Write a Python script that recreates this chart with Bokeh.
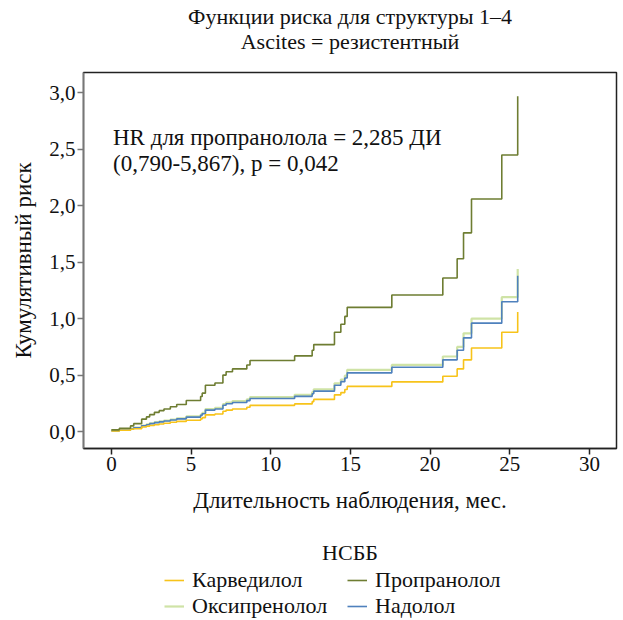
from bokeh.plotting import figure
from bokeh.models import FixedTicker, Legend, LegendItem, Label, Range1d
from bokeh.layouts import column
from bokeh.embed import file_html
from bokeh.resources import INLINE

# ---- data ----
times = [0, 0.5, 1.2, 1.4, 1.9, 2.2, 2.4, 2.7, 3.0, 3.3, 3.7, 4.1, 4.7, 5.6, 5.7, 5.9,
         6.5, 7.0, 7.2, 7.6, 8.5, 8.7, 11.5, 12.6, 12.7, 14.0, 14.4, 14.65, 14.8,
         17.6, 20.8, 21.7, 22.1, 22.6, 24.5, 25.5]

propranolol = [0.015, 0.03, 0.05, 0.07, 0.11, 0.13, 0.15, 0.17, 0.185, 0.20, 0.22, 0.24,
               0.275, 0.31, 0.34, 0.41, 0.43, 0.50, 0.53, 0.555, 0.59, 0.63, 0.67, 0.72,
               0.77, 0.88, 0.95, 1.02, 1.10, 1.21, 1.36, 1.53, 1.76, 2.06, 2.45, 2.97]

carvedilol = [0.005, 0.012, 0.02, 0.025, 0.04, 0.047, 0.054, 0.061, 0.067, 0.074, 0.082,
              0.09, 0.10, 0.112, 0.123, 0.148, 0.156, 0.18, 0.19, 0.20, 0.215, 0.232,
              0.245, 0.265, 0.285, 0.325, 0.345, 0.372, 0.40, 0.44, 0.49, 0.555, 0.635,
              0.74, 0.88, 1.06]

nadolol = [0.008, 0.014, 0.023, 0.033, 0.051, 0.06, 0.07, 0.079, 0.086, 0.093, 0.102,
           0.112, 0.128, 0.144, 0.158, 0.19, 0.20, 0.233, 0.246, 0.258, 0.274, 0.293,
           0.312, 0.335, 0.358, 0.41, 0.442, 0.474, 0.52, 0.57, 0.635, 0.72, 0.83,
           0.96, 1.15, 1.38]

oxprenolol = [0.008, 0.015, 0.024, 0.034, 0.053, 0.063, 0.073, 0.083, 0.09, 0.097, 0.107,
              0.117, 0.134, 0.15, 0.165, 0.20, 0.209, 0.243, 0.257, 0.27, 0.286, 0.306,
              0.325, 0.35, 0.374, 0.427, 0.461, 0.495, 0.547, 0.59, 0.665, 0.75, 0.87,
              1.0, 1.19, 1.44]

x_ticks = [0, 5, 10, 15, 20, 25, 30]
y_ticks = [0.0, 0.5, 1.0, 1.5, 2.0, 2.5, 3.0]
y_tick_labels = ["0,0", "0,5", "1,0", "1,5", "2,0", "2,5", "3,0"]

series_names = ["Карведилол", "Пропранолол", "Оксипренолол", "Надолол"]
colors = {"Карведилол": "#F7C31A", "Пропранолол": "#6E7D32",
          "Оксипренолол": "#CFE3A6", "Надолол": "#4F81BD"}
widths = {"Карведилол": 1.6, "Пропранолол": 1.6, "Оксипренолол": 2.2, "Надолол": 1.6}

title_lines = ["Функции риска для структуры 1–4", "Ascites = резистентный"]
legend_title = "НСББ"

FONT = "Liberation Serif"
TXT = "#111111"
W = 623
FRAME_W = 533   # strips share the main plot's frame (column aligns frames)


def blank(height):
    f = figure(width=W, height=height, output_backend="svg", toolbar_location=None,
               x_range=Range1d(0, FRAME_W), y_range=Range1d(height, 0),
               x_axis_type=None, y_axis_type=None,
               min_border_left=0, min_border_right=0, min_border_top=0, min_border_bottom=0)
    f.grid.visible = False
    f.outline_line_color = None
    f.background_fill_color = "white"
    f.border_fill_color = "white"
    return f


# ---- title strip ----
p_top = blank(70)
for txt, yy in zip(title_lines, [16, 41]):
    p_top.add_layout(Label(x=FRAME_W / 2, y=yy, text=txt, text_align="center",
                           text_baseline="middle", text_font=FONT,
                           text_font_size="22px", text_color=TXT))

# ---- main plot ----
p = figure(frame_width=FRAME_W, frame_height=376, output_backend="svg", toolbar_location=None,
           x_range=Range1d(-1.75, 31.7), y_range=Range1d(-0.15, 3.18),
           min_border_left=83, min_border_right=7, min_border_top=2,
           min_border_bottom=80)
p.grid.visible = False
p.outline_line_color = "#222222"
p.outline_line_width = 1.5
p.background_fill_color = "white"
p.border_fill_color = "white"

p.step(times, oxprenolol, mode="after", line_color=colors["Оксипренолол"], line_width=2.2)
p.step(times, nadolol, mode="after", line_color=colors["Надолол"], line_width=1.6)
p.step(times, carvedilol, mode="after", line_color=colors["Карведилол"], line_width=1.6)
p.step(times, propranolol, mode="after", line_color=colors["Пропранолол"], line_width=1.6)

p.xaxis.ticker = FixedTicker(ticks=x_ticks)
p.yaxis.ticker = FixedTicker(ticks=y_ticks)
p.yaxis.major_label_overrides = {t: l for t, l in zip(y_ticks, y_tick_labels)}
for ax in (p.xaxis[0], p.yaxis[0]):
    ax.minor_tick_line_color = None
    ax.major_label_text_font = FONT
    ax.major_label_text_font_size = "21px"
    ax.major_label_text_color = TXT
    ax.axis_label_text_font = FONT
    ax.axis_label_text_font_size = "23px"
    ax.axis_label_text_font_style = "normal"
    ax.axis_label_text_color = TXT
    ax.major_tick_out = 6
    ax.major_tick_in = 0
    ax.axis_line_width = 1.5
    ax.major_tick_line_width = 1.5
    ax.major_label_standoff = 2
p.yaxis.axis_line_color = "#777777"
p.yaxis.major_tick_line_color = "#777777"
p.xaxis.axis_line_color = "#222222"
p.xaxis.major_tick_line_color = "#222222"
p.xaxis.axis_label = "Длительность наблюдения, мес."
p.yaxis.axis_label = "Кумулятивный риск"
p.xaxis.axis_label_standoff = 14
p.yaxis.axis_label_standoff = 10

p.add_layout(Label(x=0.1, y=2.605, text="HR для пропранолола = 2,285 ДИ",
                   text_font=FONT, text_font_size="23px", text_color=TXT,
                   text_baseline="alphabetic"))
p.add_layout(Label(x=0.1, y=2.374, text="(0,790-5,867), p = 0,042",
                   text_font=FONT, text_font_size="23px", text_color=TXT,
                   text_baseline="alphabetic"))

# ---- legend strip ----
p_leg = blank(92)
p_leg.add_layout(Label(x=FRAME_W / 2, y=24, text=legend_title, text_align="center",
                       text_baseline="middle", text_font=FONT, text_font_size="22px",
                       text_color=TXT))
nan = float("nan")
leg_renderers = {n: p_leg.step([nan], [nan], mode="after", line_color=colors[n],
                               line_width=widths[n])
                 for n in series_names}
legend = Legend(items=[LegendItem(label=n, renderers=[leg_renderers[n]]) for n in series_names],
                orientation="horizontal", ncols=2, location=(81, 1),
                label_text_font=FONT, label_text_font_size="22px", label_text_color=TXT,
                glyph_width=20, glyph_height=20, label_standoff=8, spacing=0,
                label_width=155, padding=0, margin=0, border_line_color=None,
                background_fill_alpha=0, label_height=22)
p_leg.add_layout(legend, "center")

layout = column(p_top, p, p_leg, spacing=0)
open("out.html", "w").write(file_html(layout, INLINE))
